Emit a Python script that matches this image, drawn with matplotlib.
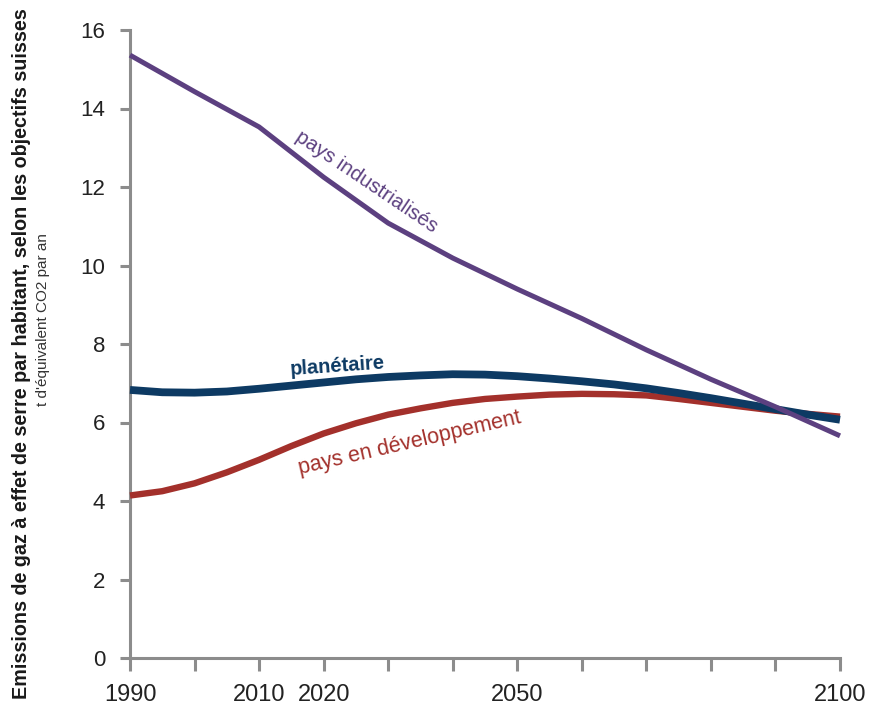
import matplotlib
matplotlib.use("Agg")
import matplotlib.pyplot as plt

# ---------------- data ----------------
years = [1990, 1995, 2000, 2005, 2010, 2015, 2020, 2025, 2030, 2035, 2040, 2045,
         2050, 2055, 2060, 2065, 2070, 2075, 2080, 2085, 2090, 2095, 2100]
planetaire = [6.83, 6.77, 6.76, 6.79, 6.86, 6.94, 7.02, 7.10, 7.16, 7.20, 7.23, 7.22,
              7.18, 7.12, 7.05, 6.97, 6.87, 6.75, 6.62, 6.48, 6.34, 6.20, 6.07]
developpement = [4.14, 4.25, 4.45, 4.73, 5.05, 5.40, 5.72, 5.98, 6.20, 6.36, 6.50, 6.60,
                 6.66, 6.71, 6.73, 6.72, 6.69, 6.60, 6.50, 6.40, 6.30, 6.22, 6.15]
ind_years = [1990, 2000, 2010, 2020, 2030, 2040, 2050, 2060, 2070, 2080, 2090, 2100]
industrialises = [15.36, 14.43, 13.53, 12.25, 11.08, 10.19, 9.40, 8.65, 7.85, 7.10, 6.40, 5.66]

xticks = list(range(1990, 2101, 10))
xtick_labels = ["1990", "", "2010", "2020", "", "", "2050", "", "", "", "", "2100"]
yticks = list(range(0, 17, 2))

plt.rcParams['font.family'] = ['Liberation Sans', 'DejaVu Sans']

fig = plt.figure(figsize=(8.73, 7.13), dpi=100)
ax = fig.add_axes([130/873, 55/713, 710/873, 628/713])

purple = "#5c4080"
navy = "#0d3a63"
red = "#a3302b"
gray = "#8c8c8c"

ax.plot(years, developpement, color=red, lw=4.6, clip_on=False, solid_capstyle='butt', zorder=3)
ax.plot(years, planetaire, color=navy, lw=5.6, clip_on=False, solid_capstyle='butt', zorder=4)
ax.plot(ind_years, industrialises, color=purple, lw=3.6, clip_on=False, solid_capstyle='butt', zorder=5)

ax.set_xlim(1990, 2100)
ax.set_ylim(0, 16)
ax.set_xticks(xticks)
ax.set_xticklabels(xtick_labels)
ax.set_yticks(yticks)
ax.set_yticklabels([str(v) for v in yticks])

for s in ['top', 'right']:
    ax.spines[s].set_visible(False)
for s in ['left', 'bottom']:
    ax.spines[s].set_color(gray)
    ax.spines[s].set_linewidth(2.2)

ax.tick_params(axis='y', direction='out', length=7, width=2.2, color=gray,
               labelsize=16, labelcolor='#222222', pad=11)
ax.tick_params(axis='x', direction='out', length=9, width=2.2, color=gray,
               labelsize=17, labelcolor='#222222', pad=10)

ax.text(2026.7, 12.13, "pays industrialisés", color=purple, fontsize=14.7,
        rotation=-34, ha='center', va='center', rotation_mode='anchor')
ax.text(2022.2, 7.44, "planétaire", color=navy, fontsize=14.5, fontweight='bold',
        rotation=4, ha='center', va='center', rotation_mode='anchor')
ax.text(2033.4, 5.48, "pays en développement", color=red, fontsize=15.5,
        rotation=13, ha='center', va='center', rotation_mode='anchor')

fig.text(22/873, 1 - 354/713,
         "Emissions de gaz à effet de serre par habitant, selon les objectifs suisses",
         rotation=90, ha='center', va='center', fontsize=14.2, fontweight='bold', color='#1a1a1a')
fig.text(43/873, 1 - 320/713, "t d'équivalent CO2 par an",
         rotation=90, ha='center', va='center', fontsize=11, color='#333333')

fig.savefig("out.png", dpi=100)
